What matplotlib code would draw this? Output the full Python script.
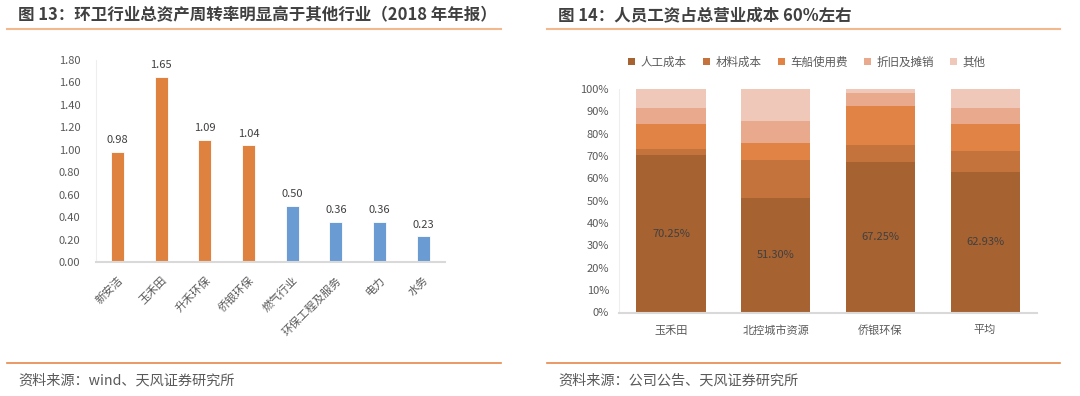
import numpy as np
import matplotlib.pyplot as plt

plt.rcParams['font.family'] = ['Noto Sans CJK SC', 'DejaVu Sans']

# 图13 数据
hy_names = ["新安洁", "玉禾田", "升禾环保", "侨银环保", "燃气行业", "环保工程及服务", "电力", "水务"]
hy_values = [0.98, 1.65, 1.09, 1.04, 0.50, 0.36, 0.36, 0.23]
hy_colors = ["#E0823F"] * 4 + ["#6A9BD2"] * 4

# 图14 数据
gs_names = ["玉禾田", "北控城市资源", "侨银环保", "平均"]
cb_names = ["人工成本", "材料成本", "车船使用费", "折旧及摊销", "其他"]
rg = [70.25, 51.30, 67.25, 62.93]
cl = [3.0, 16.9, 7.8, 9.3]
cc = [11.3, 7.6, 17.5, 12.2]
zj = [6.9, 9.9, 5.8, 7.1]
qt = [8.55, 14.3, 1.7, 8.47]
cb_colors = ["#A66231", "#C4733C", "#E08344", "#E8A98C", "#EFC8BA"]

W, H = 1080, 396
fig = plt.figure(figsize=(W / 100, H / 100), dpi=100)

def box(x0, y0, x1, y1):
    return [x0 / W, 1 - y1 / H, (x1 - x0) / W, (y1 - y0) / H]

txt = "#404040"
grey = "#595959"
axc = "#D9D9D9"

# 标题、分隔线、来源
fig.text(18 / W, 1 - 15 / H, "图 13：环卫行业总资产周转率明显高于其他行业（2018 年年报）",
         fontsize=11.9, fontweight="bold", color=txt, va="center")
fig.text(558 / W, 1 - 15 / H, "图 14：人员工资占总营业成本 60%左右",
         fontsize=11.9, fontweight="bold", color=txt, va="center")
for x0, x1 in [(7, 501), (547, 1060)]:
    fig.add_artist(plt.Line2D([x0 / W, x1 / W], [1 - 29 / H] * 2, color="#F2B98E", lw=1.5))
    fig.add_artist(plt.Line2D([x0 / W, x1 / W], [1 - 363 / H] * 2, color="#E8874A", lw=1.2))
fig.text(18 / W, 1 - 381 / H, "资料来源：wind、天风证券研究所", fontsize=10.2, color=grey, va="center")
fig.text(558 / W, 1 - 381 / H, "资料来源：公司公告、天风证券研究所", fontsize=10.2, color=grey, va="center")

# 左图
ax1 = fig.add_axes(box(95.7, 60, 445, 262.3))
x = np.arange(len(hy_names))
ax1.bar(x, hy_values, width=0.3, color=hy_colors, edgecolor="white", linewidth=0.6)
for xi, v in zip(x, hy_values):
    ax1.text(xi, v + 0.06, "%.2f" % v, ha="center", va="bottom", fontsize=8, color=txt)
ax1.set_xlim(-0.5, len(hy_names) - 0.5)
ax1.set_ylim(0, 1.8)
ax1.set_yticks(np.arange(0, 1.81, 0.2))
ax1.set_yticklabels(["%.2f" % t for t in np.arange(0, 1.81, 0.2)])
ax1.set_xticks(x)
ax1.set_xticklabels(hy_names, rotation=45, ha="right", va="top", rotation_mode="anchor")
ax1.tick_params(length=0, labelsize=8, colors=grey)
ax1.tick_params(axis="y", pad=11)
ax1.tick_params(axis="x", pad=9)
for s in ["top", "right"]:
    ax1.spines[s].set_visible(False)
ax1.spines["left"].set_color("#EEEEEE")
ax1.spines["bottom"].set_color(axc)
ax1.spines["bottom"].set_linewidth(1.5)

# 右图
ax2 = fig.add_axes(box(618.7, 89, 1037.4, 312.5))
x2 = np.arange(len(gs_names))
bottom = np.zeros(len(gs_names))
for name, vals, col in zip(cb_names, [rg, cl, cc, zj, qt], cb_colors):
    vals = np.array(vals) / 100
    ax2.bar(x2, vals, width=0.66, bottom=bottom, color=col, label=name, linewidth=0)
    bottom += vals
for xi, v in zip(x2, rg):
    ax2.text(xi, v / 200, "%.2f%%" % v, ha="center", va="center", fontsize=8, color=txt)
ax2.set_xlim(-0.5, len(gs_names) - 0.5)
ax2.set_ylim(0, 1)
ax2.set_yticks(np.arange(0, 1.01, 0.1))
ax2.set_yticklabels(["%d%%" % round(t * 100) for t in np.arange(0, 1.01, 0.1)])
ax2.set_xticks(x2)
ax2.set_xticklabels(gs_names)
ax2.tick_params(length=0, labelsize=8, colors=grey)
ax2.tick_params(axis="y", pad=7)
ax2.tick_params(axis="x", pad=9)
for s in ["top", "right"]:
    ax2.spines[s].set_visible(False)
ax2.spines["left"].set_color("#EEEEEE")
ax2.spines["bottom"].set_color(axc)
ax2.spines["bottom"].set_linewidth(1.5)
ax2.legend(loc="center", bbox_to_anchor=(807 / W, 1 - 62 / H), bbox_transform=fig.transFigure,
           ncol=5, frameon=False, fontsize=8.3, handlelength=0.6, handleheight=0.6,
           handletextpad=0.5, columnspacing=1.4, labelcolor=grey)

fig.savefig("out.png", dpi=100)
